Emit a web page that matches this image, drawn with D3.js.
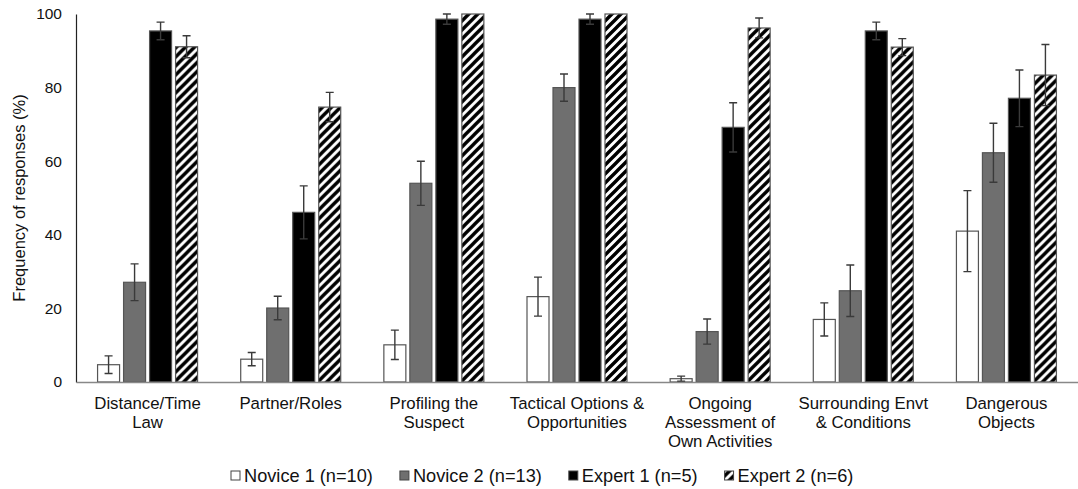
<!DOCTYPE html>
<html>
<head>
<meta charset="utf-8">
<script src="https://cdn.jsdelivr.net/npm/d3@7"></script>
<style>
  body { margin: 0; background: #fff; }
  svg text { font-family: "Liberation Sans", Arial, sans-serif; fill: #111; }
</style>
</head>
<body>
<div id="chart"></div>
<script>
// categories (multi-line labels split on "\n")
const categories = [
    "Distance/Time\nLaw",
    "Partner/Roles",
    "Profiling the\nSuspect",
    "Tactical Options &\nOpportunities",
    "Ongoing\nAssessment of\nOwn Activities",
    "Surrounding Envt\n& Conditions",
    "Dangerous\nObjects"
];
const seriesNames = ["Novice 1 (n=10)", "Novice 2 (n=13)", "Expert 1 (n=5)", "Expert 2 (n=6)"];

const novice1    = [4.7, 6.2, 10.1, 23.2, 0.9, 17.0, 41.0];
const novice1Err = [2.4, 1.8, 4.0, 5.3, 0.7, 4.5, 11.0];
const novice2    = [27.1, 20.1, 54.0, 80.0, 13.7, 24.8, 62.3];
const novice2Err = [5.0, 3.2, 6.0, 3.7, 3.4, 7.0, 8.0];
const expert1    = [95.4, 46.1, 98.6, 98.6, 69.2, 95.4, 77.1];
const expert1Err = [2.4, 7.2, 1.4, 1.4, 6.7, 2.4, 7.7];
const expert2    = [91.1, 74.7, 100, 100, 96.2, 91.0, 83.4];
const expert2Err = [3.0, 4.0, 0, 0, 2.7, 2.3, 8.3];

const yTicks = [0, 20, 40, 60, 80, 100];

const seriesValues = [novice1, novice2, expert1, expert2];
const seriesErrors = [novice1Err, novice2Err, expert1Err, expert2Err];

const width = 1078, height = 489;
const margin = {left: 76, right: 0, top: 14, bottom: 107};

const svg = d3.select('#chart').append('svg')
    .attr('width', width)
    .attr('height', height);

// hatch pattern for Expert 2
const defs = svg.append('defs');
defs.append('pattern')
    .attr('id', 'hatch')
    .attr('patternUnits', 'userSpaceOnUse')
    .attr('width', 9)
    .attr('height', 9)
    .call(p => {
        p.append('rect').attr('width', 9).attr('height', 9).attr('fill', '#fff');
        p.append('path')
            .attr('d', 'M-2,2 L2,-2 M0,9 L9,0 M7,11 L11,7')
            .attr('stroke', '#000')
            .attr('stroke-width', 3.4);
    });

const fills = ['#ffffff', '#6f6f6f', '#000000', 'url(#hatch)'];

const x0 = d3.scaleBand()
    .domain(categories)
    .range([margin.left, width - margin.right])
    .padding(0);

const x1 = d3.scaleBand()
    .domain(d3.range(seriesNames.length))
    .range([0, 100])
    .paddingInner(4 / 26)
    .paddingOuter(0);

const y = d3.scaleLinear()
    .domain([0, 100])
    .range([height - margin.bottom, margin.top]);

// y axis
const yAxis = svg.append('g')
    .attr('transform', `translate(${margin.left},0)`)
    .call(d3.axisLeft(y).tickValues(yTicks).tickSize(0).tickPadding(14));
yAxis.select('.domain').attr('stroke', '#222').attr('stroke-width', 1.2);
yAxis.selectAll('text').style('font-size', '15.5px').attr('fill', '#111');

svg.append('text')
    .attr('transform', `translate(19,${(y(0) + y(100)) / 2}) rotate(-90)`)
    .attr('text-anchor', 'middle')
    .attr('dy', '0.35em')
    .style('font-size', '16.5px')
    .text('Frequency of responses (%)');

// bars
const groups = svg.append('g').selectAll('g')
    .data(categories)
    .join('g')
    .attr('transform', d => `translate(${x0(d) + x0.bandwidth() / 2 - 50},0)`);

groups.each(function(cat, ci){
    const g = d3.select(this);
    seriesNames.forEach((s, si) => {
        const v = seriesValues[si][ci];
        g.append('rect')
            .attr('x', x1(si))
            .attr('y', y(v))
            .attr('width', x1.bandwidth())
            .attr('height', y(0) - y(v))
            .attr('fill', fills[si])
            .attr('stroke', '#555')
            .attr('stroke-width', 1.2);

        const e = seriesErrors[si][ci];
        if(e > 0){
            const cx = x1(si) + x1.bandwidth() / 2;
            const top = y(Math.min(100, v + e)), bot = y(v - e);
            g.append('path')
                .attr('d', `M${cx - 4},${top}H${cx + 4}M${cx},${top}V${bot}M${cx - 4},${bot}H${cx + 4}`)
                .attr('stroke', '#3a3a3a')
                .attr('stroke-width', 1.4)
                .attr('fill', 'none');
        }
    });
});

// x axis
const xAxis = svg.append('g')
    .attr('transform', `translate(0,${y(0)})`)
    .call(d3.axisBottom(x0).tickSize(0).tickFormat(''));
xAxis.select('.domain').attr('stroke', '#888').attr('stroke-width', 1.5);

xAxis.selectAll('.tick').each(function(d){
    const t = d3.select(this).append('text')
        .attr('text-anchor', 'middle')
        .attr('y', 27)
        .style('font-size', '16.8px')
        .attr('fill', '#111');
    d.split('\n').forEach((line, i) => {
        t.append('tspan').attr('x', 0).attr('dy', i === 0 ? 0 : 19).text(line);
    });
});

// legend
const legend = svg.append('g').attr('transform', 'translate(231,476)');
let lx = 0;
seriesNames.forEach((s, si) => {
    const item = legend.append('g').attr('transform', `translate(${lx},0)`);
    item.append('rect')
        .attr('x', 0).attr('y', -5)
        .attr('width', 9).attr('height', 9)
        .attr('fill', fills[si])
        .attr('stroke', '#444')
        .attr('stroke-width', 1);
    const t = item.append('text')
        .attr('x', 13)
        .attr('dy', '0.35em')
        .style('font-size', '18.2px')
        .text(s);
    lx += 13 + t.node().getComputedTextLength() + 27;
});
</script>
</body>
</html>
